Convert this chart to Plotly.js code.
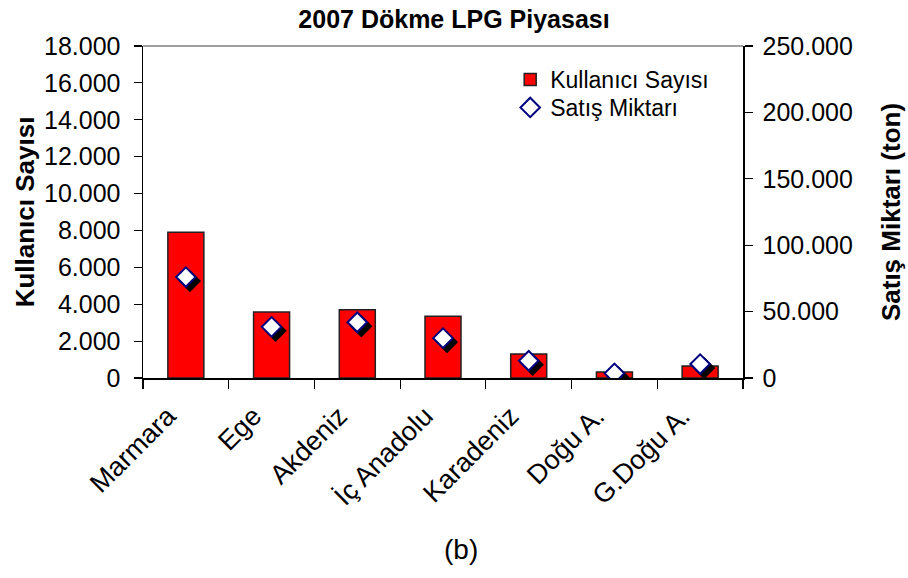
<!DOCTYPE html>
<html>
<head>
<meta charset="utf-8">
<script src="https://cdn.plot.ly/plotly-3.0.1.min.js"></script>
<style>html,body{margin:0;padding:0;background:#fff}#chart{width:908px;height:578px}</style>
</head>
<body>
<div id="chart"></div>
<script>
// Data
const categories = ['Marmara', 'Ege', 'Akdeniz', 'İç Anadolu', 'Karadeniz', 'Doğu A.', 'G.Doğu A.'];
const kullaniciSayisi = [7900, 3580, 3700, 3350, 1300, 330, 650];
const satisMiktari = [76000, 38500, 42000, 30000, 13000, 3500, 10500];
const leftTickVals = [0, 2000, 4000, 6000, 8000, 10000, 12000, 14000, 16000, 18000];
const rightTickVals = [0, 50000, 100000, 150000, 200000, 250000];

const FONT = '"Liberation Sans", Arial, sans-serif';
const leftRange = [0, 18000];
const rightRange = [0, 250000];
const catRange = [-0.5, 6.5];
// shadow offset in pixels (right, down)
const plotW = 600, plotH = 332, shadowPx = 4;
const xShift = shadowPx * (catRange[1] - catRange[0]) / plotW;
const yShift = shadowPx * (rightRange[1] - rightRange[0]) / plotH;

const traces = [
  {
    type: 'bar', name: 'Kullanıcı Sayısı', x: categories, y: kullaniciSayisi,
    xaxis: 'x', yaxis: 'y', legend: 'legend',
    marker: {color: '#FF0000', line: {color: '#222222', width: 1.5}},
    hoverinfo: 'skip'
  },
  {
    type: 'scatter', mode: 'markers', name: 'shadow', showlegend: false,
    x: categories, y: satisMiktari, xaxis: 'x2', yaxis: 'y2',
    marker: {symbol: 'diamond', size: 15, color: '#000000', line: {color: '#000000', width: 2}},
    hoverinfo: 'skip'
  },
  {
    type: 'scatter', mode: 'markers', name: 'Satış Miktarı', legend: 'legend2',
    x: categories, y: satisMiktari, xaxis: 'x3', yaxis: 'y3',
    marker: {symbol: 'diamond', size: 15, color: '#FFFFFF', line: {color: '#000080', width: 2}},
    hoverinfo: 'skip'
  }
];

const hiddenX = (range) => ({
  type: 'category', overlaying: 'x', range: range, visible: false, fixedrange: true
});

const legendBase = {
  x: 0.612, xanchor: 'left', yanchor: 'top',
  bgcolor: 'rgba(255,255,255,0)', borderwidth: 0,
  font: {family: FONT, size: 23, color: '#000000'},
  itemwidth: 30
};

const layout = {
  width: 908, height: 578,
  margin: {l: 143, r: 165, t: 46, b: 200},
  paper_bgcolor: '#FFFFFF', plot_bgcolor: '#FFFFFF',
  separators: ',.',
  font: {family: FONT, size: 25, color: '#000000'},
  showlegend: true,
  bargap: 0.58,
  title: {
    text: '<b>2007 Dökme LPG Piyasası</b>',
    font: {family: FONT, size: 25, color: '#000000'},
    x: 0.5, xref: 'container', xanchor: 'center',
    y: 1 - 19 / 578, yref: 'container', yanchor: 'middle'
  },
  xaxis: {
    type: 'category', range: catRange, fixedrange: true,
    showline: true, linecolor: '#000000', linewidth: 1.5,
    ticks: 'outside', ticklen: 9, tickwidth: 1.2, tickcolor: '#000000',
    tickson: 'boundaries', tickangle: -45,
    ticklabelshift: -18, ticklabelstandoff: 10,
    tickfont: {family: FONT, size: 27, color: '#000000'},
    showgrid: false, zeroline: false, anchor: 'y'
  },
  xaxis2: hiddenX([catRange[0] - xShift, catRange[1] - xShift]),
  xaxis3: hiddenX(catRange),
  xaxis4: {
    type: 'category', overlaying: 'x', range: catRange, fixedrange: true,
    showline: false, ticks: 'inside', ticklen: 8, tickwidth: 1.2, tickcolor: '#000000',
    tickson: 'boundaries', showticklabels: false, showgrid: false, zeroline: false, anchor: 'y'
  },
  yaxis: {
    range: leftRange, tickvals: leftTickVals, tickformat: ',d', fixedrange: true,
    showline: true, linecolor: '#000000', linewidth: 1.5,
    ticks: 'outside', ticklen: 8, tickwidth: 1.2, tickcolor: '#000000',
    ticklabelstandoff: 8,
    tickfont: {family: FONT, size: 25, color: '#000000'},
    showgrid: false, zeroline: false,
    title: {text: '<b>Kullanıcı Sayısı</b>', font: {family: FONT, size: 26, color: '#000000'}, standoff: 2}
  },
  yaxis2: {
    overlaying: 'y', range: [rightRange[0] + yShift, rightRange[1] + yShift],
    visible: false, fixedrange: true
  },
  yaxis3: {
    overlaying: 'y', side: 'right', anchor: 'x3', range: rightRange, tickvals: rightTickVals, tickformat: ',d',
    fixedrange: true,
    showline: true, linecolor: '#000000', linewidth: 1.5,
    ticks: 'outside', ticklen: 8, tickwidth: 1.2, tickcolor: '#000000',
    ticklabelstandoff: 5,
    tickfont: {family: FONT, size: 25, color: '#000000'},
    showgrid: false, zeroline: false,
    title: {text: '<b>Satış Miktarı (ton)</b>', font: {family: FONT, size: 26, color: '#000000'}, standoff: 30}
  },
  yaxis4: {
    overlaying: 'y', side: 'left', anchor: 'x', range: leftRange, tickvals: leftTickVals, fixedrange: true,
    showline: false, ticks: 'inside', ticklen: 8, tickwidth: 1.2, tickcolor: '#000000',
    showticklabels: false, showgrid: false, zeroline: false
  },
  yaxis5: {
    overlaying: 'y', side: 'right', anchor: 'x', range: rightRange, tickvals: rightTickVals, fixedrange: true,
    showline: false, ticks: 'inside', ticklen: 8, tickwidth: 1.2, tickcolor: '#000000',
    showticklabels: false, showgrid: false, zeroline: false
  },
  legend: Object.assign({}, legendBase, {y: 0.964}),
  legend2: Object.assign({}, legendBase, {y: 0.8795}),
  shapes: [
    {type: 'line', xref: 'paper', yref: 'paper', x0: 0, x1: 1, y0: 1, y1: 1,
     line: {color: '#A0A0A0', width: 2}}
  ],
  annotations: [
    {text: '(b)', xref: 'paper', yref: 'paper', x: (461 - 143) / 600, y: -(549 - 378) / 332,
     xanchor: 'center', yanchor: 'middle', showarrow: false,
     font: {family: FONT, size: 28, color: '#000000'}}
  ]
};

Plotly.newPlot('chart', traces, layout, {displayModeBar: false, staticPlot: true});
</script>
</body>
</html>
